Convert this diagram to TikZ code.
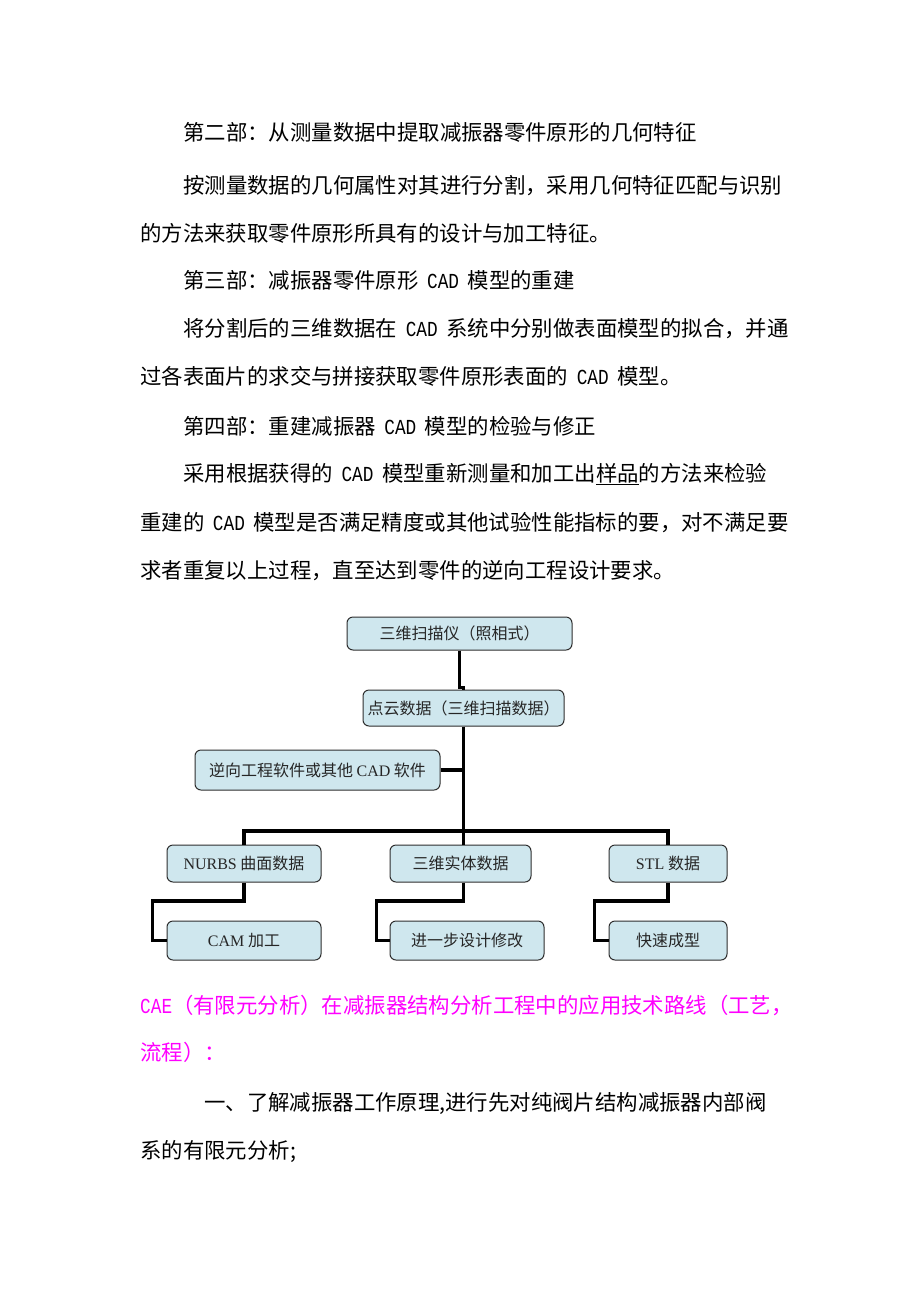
\documentclass[tikz,border=0pt]{standalone}
\usepackage{fontspec}
\usepackage{xcolor}
\setmainfont{Noto Sans CJK SC}
\newfontfamily\boxlat{Liberation Serif}
\newfontfamily\lmono{Liberation Mono}
\newcommand{\cadw}{\hspace{0.4em}\scalebox{0.83}[1]{\lmono CAD}\hspace{0.4em}}
\definecolor{boxfill}{HTML}{CFE7EE}
\definecolor{boxline}{HTML}{2E2E2E}
\definecolor{pinktext}{HTML}{FF00FF}
\usetikzlibrary{positioning}

\begin{document}
\begin{tikzpicture}[x=1pt, y=-1pt,
    txt/.style = {anchor=base west, inner sep=0pt, font=\fontsize{21.4}{21.4}\selectfont},
    flowbox/.style = {draw=boxline, line width=1pt, fill=boxfill, rounded corners=6pt,
                      inner sep=0pt, font=\fontsize{16}{16}\selectfont, text=black!85},
    link/.style = {line width=3.2pt, black}]
        % Page
        \fill[white] (0,0) rectangle (920,1302);
        \useasboundingbox (0,0) rectangle (920,1302);

        % Paragraphs above the chart
        \node[txt] (l1) at (183,140) {第二部：从测量数据中提取减振器零件原形的几何特征};
        \node[txt] (l2) at (183,193) {按测量数据的几何属性对其进行分割，采用几何特征匹配与识别};
        \node[txt] (l3) at (140,241) {的方法来获取零件原形所具有的设计与加工特征。};
        \node[txt] (l4) at (183,288) {第三部：减振器零件原形\cadw 模型的重建};
        \node[txt] (l5) at (183,336) {将分割后的三维数据在\cadw 系统中分别做表面模型的拟合，并通};
        \node[txt] (l6) at (140,384) {过各表面片的求交与拼接获取零件原形表面的\cadw 模型。};
        \node[txt] (l7) at (183,434) {第四部：重建减振器\cadw 模型的检验与修正};
        \node[txt] (l8) at (183,481) {采用根据获得的\cadw 模型重新测量和加工出\underline{样品}的方法来检验};
        \node[txt] (l9) at (140,530) {重建的\cadw 模型是否满足精度或其他试验性能指标的要，对不满足要};
        \node[txt] (l10) at (140,578) {求者重复以上过程，直至达到零件的逆向工程设计要求。};

        % Chart boxes
        \node[flowbox, minimum width=225, minimum height=33] (scan) at (459.5,633.5) {三维扫描仪（照相式）};
        \node[flowbox, minimum width=201, minimum height=36] (cloud) at (463.5,708) {点云数据（三维扫描数据）};
        \node[flowbox, minimum width=245, minimum height=40] (soft) at (317.5,770) {逆向工程软件或其他 {\boxlat CAD} 软件};
        \node[flowbox, minimum width=154, minimum height=37] (nurbs) at (244,863.5) {{\boxlat NURBS} 曲面数据};
        \node[flowbox, minimum width=141, minimum height=37] (solid) at (460.5,863.5) {三维实体数据};
        \node[flowbox, minimum width=118, minimum height=37] (stl) at (668,863.5) {{\boxlat STL} 数据};
        \node[flowbox, minimum width=154, minimum height=39] (cam) at (244,940.5) {{\boxlat CAM} 加工};
        \node[flowbox, minimum width=154, minimum height=39] (modify) at (467,940.5) {进一步设计修改};
        \node[flowbox, minimum width=118, minimum height=39] (rapid) at (668,940.5) {快速成型};

        % Connectors
        \coordinate (bus) at (463.5,831);
        \draw[link] (scan.south) -- ++(0,37) -| (cloud.north);
        \draw[link] (cloud.south) -- (bus);
        \draw[link] (soft.east) -- (soft.east -| bus);
        \draw[link] (nurbs.north) |- (bus) -| (stl.north);
        \draw[link] (solid.north -| bus) -- (bus);
        \draw[link] (nurbs.south) -- ++(0,18.5) -| ([xshift=-14pt]cam.west) -- (cam.west);
        \draw[link] (solid.south -| bus) -- ++(0,18.5) -| ([xshift=-13pt]modify.west) -- (modify.west);
        \draw[link] (stl.south) -- ++(0,18.5) -| ([xshift=-14pt]rapid.west) -- (rapid.west);

        % Paragraphs below the chart
        \node[txt, text=pinktext] (c1) at (140,1013) {{\scalebox{0.83}[1]{\lmono CAE}}（有限元分析）在减振器结构分析工程中的应用技术路线（工艺，};
        \node[txt, text=pinktext] (c2) at (140,1060) {流程）：};
        \node[txt] (c3) at (204,1110) {一、了解减振器工作原理,进行先对纯阀片结构减振器内部阀};
        \node[txt] (c4) at (140,1158) {系的有限元分析;};
\end{tikzpicture}
\end{document}
